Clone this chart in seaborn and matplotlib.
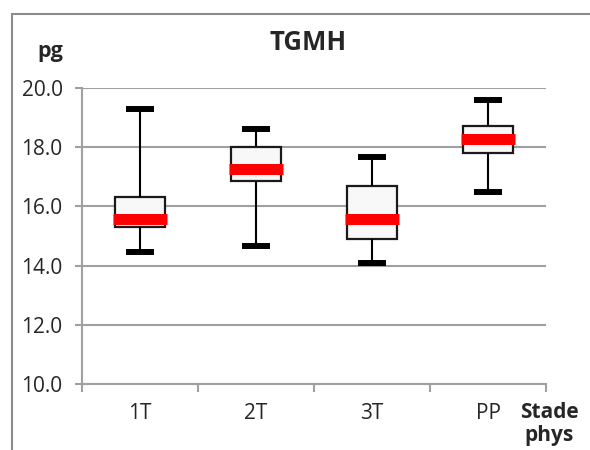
import numpy as np
import pandas as pd
import matplotlib
matplotlib.use("Agg")
import matplotlib.pyplot as plt
from matplotlib.lines import Line2D
from matplotlib.ticker import FixedLocator, FormatStrFormatter
import seaborn as sns

# Five-number summaries per physiological stage (pg)
stages = ["1T", "2T", "3T", "PP"]
minimum = [14.45, 14.65, 14.10, 16.50]
q1 = [15.30, 16.85, 14.90, 17.80]
median = [15.57, 17.28, 15.57, 18.27]
q3 = [16.33, 18.00, 16.68, 18.70]
maximum = [19.30, 18.60, 17.68, 19.60]

rows = []
for i, s in enumerate(stages):
    for v in (minimum[i], q1[i], median[i], q3[i], maximum[i]):
        rows.append({"stage": s, "value": v})
df = pd.DataFrame(rows)

sns.set_style("white")
plt.rcParams["font.family"] = ["Open Sans", "DejaVu Sans"]

W, H = 590, 450
fig = plt.figure(figsize=(W / 100, H / 100), dpi=100)
ax = fig.add_axes([82 / W, 1 - 384 / H, (546 - 82) / W, (384 - 88) / H])

grey = "#a0a0a0"

sns.boxplot(
    data=df, x="stage", y="value", order=stages, ax=ax,
    whis=(0, 100), width=0.43, color="#f8f8f8", saturation=1,
    linecolor="#1a1a1a", fliersize=0,
    boxprops=dict(facecolor="#f8f8f8", edgecolor="#1a1a1a", linewidth=1.6),
    whiskerprops=dict(color="black", linewidth=1.5),
    capprops=dict(color="black", linewidth=4.3, solid_capstyle="butt"),
    medianprops=dict(color="#ff0000", linewidth=7.9, solid_capstyle="butt"),
)

# Widen medians past the box, narrow the caps
for ln in ax.lines:
    x = np.asarray(ln.get_xdata(), dtype=float)
    y = np.asarray(ln.get_ydata(), dtype=float)
    if len(x) == 2 and y[0] == y[1] and x[0] != x[1]:
        c = x.mean()
        col = matplotlib.colors.to_hex(ln.get_color())
        if col == "#ff0000":
            ln.set_xdata([c - 0.233, c + 0.233])
            ln.set_zorder(5)
        else:
            ln.set_xdata([c - 0.117, c + 0.117])

ax.set_xlim(-0.5, 3.5)
ax.set_ylim(10, 20)
ax.yaxis.set_major_locator(FixedLocator([10, 12, 14, 16, 18, 20]))
ax.yaxis.set_major_formatter(FormatStrFormatter("%.1f"))
ax.xaxis.set_minor_locator(FixedLocator([-0.5, 0.5, 1.5, 2.5, 3.5]))

ax.set_xlabel("")
ax.set_ylabel("")
ax.grid(axis="y", color=grey, linewidth=1.5, zorder=0)
ax.set_axisbelow(True)
for side in ("top", "right"):
    ax.spines[side].set_visible(False)
for side in ("left", "bottom"):
    ax.spines[side].set_color(grey)
    ax.spines[side].set_linewidth(1.5)

ax.tick_params(axis="y", which="major", length=5, width=1.5, color=grey,
               labelsize=15, pad=9, left=True)
ax.tick_params(axis="x", which="major", length=0, labelsize=15, pad=14)
ax.tick_params(axis="x", which="minor", length=5.8, width=1.5, color=grey,
               bottom=True)

# Titles and axis captions
fig.text(308 / W, 1 - 43 / H, "TGMH", ha="center", va="center",
         fontsize=18.5, fontweight="bold")
fig.text(50 / W, 1 - 52 / H, "pg", ha="center", va="center",
         fontsize=15.5, fontweight="bold")
fig.text(549 / W, 1 - 412 / H, "Stade", ha="center", va="center",
         fontsize=15, fontweight="bold")
fig.text(549 / W, 1 - 436 / H, "phys", ha="center", va="center",
         fontsize=15, fontweight="bold")

# Chart frame (top and left edges)
fig.add_artist(Line2D([12 / W, 12 / W], [0, 1 - 14 / H],
                      transform=fig.transFigure, color="#8c8c8c", linewidth=1.5))
fig.add_artist(Line2D([12 / W, 1], [1 - 14 / H, 1 - 14 / H],
                      transform=fig.transFigure, color="#8c8c8c", linewidth=1.5))

fig.savefig("out.png", dpi=100, facecolor="white")
